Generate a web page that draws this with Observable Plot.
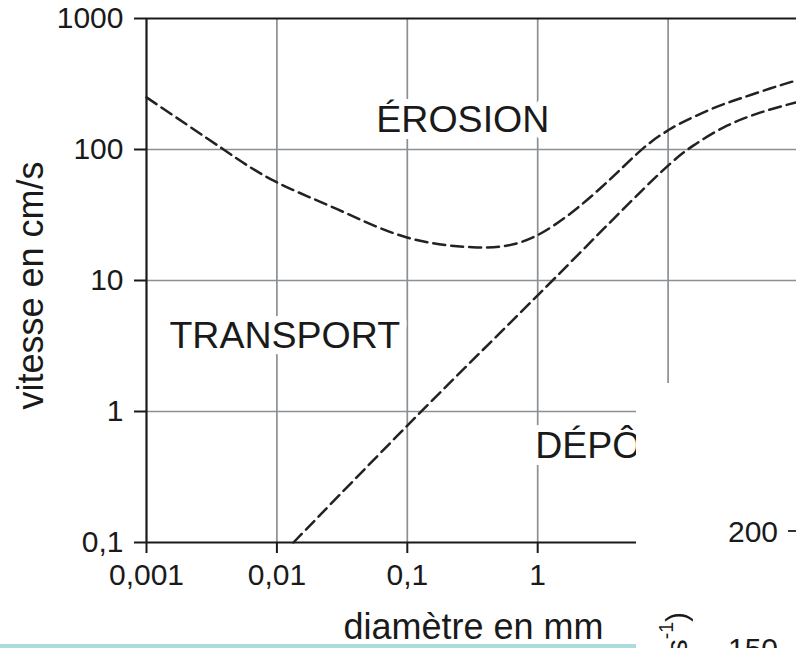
<!DOCTYPE html>
<html><head><meta charset="utf-8">
<script src="https://cdn.jsdelivr.net/npm/d3@7"></script>
<script src="https://cdn.jsdelivr.net/npm/@observablehq/plot@0.6"></script>
<style>
html,body{margin:0;padding:0;background:#fff;}
#wrap{position:relative;width:796px;height:648px;overflow:hidden;font-family:"Liberation Sans",Arial,sans-serif;color:#1a1a1a;}
#wrap svg{position:absolute;left:0;top:0;}
#mask{position:absolute;left:636px;top:383px;width:160px;height:265px;background:#fff;}
.frag{position:absolute;font-size:30px;line-height:1;white-space:nowrap;}
#tick200{position:absolute;left:788px;top:530px;width:8px;height:2px;background:#333;}
#unit{position:absolute;left:657px;top:612px;font-size:30px;line-height:1;writing-mode:vertical-rl;transform:rotate(180deg);white-space:nowrap;}
#unit sup{font-size:0.65em;}
#bar{position:absolute;left:0;top:644px;width:636px;height:4px;background:#a9dcda;}
svg [aria-label="x-axis tick"] path, svg [aria-label="y-axis tick"] path{stroke-width:2px;}
</style></head>
<body><div id="wrap"></div>
<script>
// Erosion threshold curve (upper dashed)
const erosionD = [0.001, 0.0039, 0.0097, 0.029, 0.098, 0.34, 0.99, 3.01, 6.43, 10, 12.4, 21, 35.6, 60.5, 95.7];
const erosionV = [250, 100, 57, 35, 21.4, 17.9, 22.1, 50.4, 102, 140, 158, 202, 245, 292, 336];
// Deposition (settling) curve (lower dashed)
const depositD = [0.0134, 0.1, 1, 10.4, 15.6, 28.3, 50.7, 95.7];
const depositV = [0.1, 0.78, 7.7, 78, 107, 152, 191, 229];
// Region labels
const regionNames = ["ÉROSION", "TRANSPORT", "DÉPÔT"];
const regionD = [0.0579, 0.0015, 0.957];
const regionV = [135, 3.03, 0.438];
// Ticks
const xTicks = [0.001, 0.01, 0.1, 1];
const xTickLabels = ["0,001", "0,01", "0,1", "1"];
const yTicks = [0.1, 1, 10, 100, 1000];
const yTickLabels = ["0,1", "1", "10", "100", "1000"];
const xGrid = [0.01, 0.1, 1, 10];
const yGrid = [1, 10, 100];
const xLabel = "diamètre en mm";
const yLabel = "vitesse en cm/s";

const erosion = erosionD.map((d, i) => ({d, v: erosionV[i]}));
const deposit = depositD.map((d, i) => ({d, v: depositV[i]}));
const regions = regionNames.map((name, i) => ({name, d: regionD[i], v: regionV[i]}));
const ink = "#1a1a1a";
const gridColor = "#8a9094";

const chart = Plot.plot({
  width: 796,
  height: 648,
  marginLeft: 146,
  marginRight: 0,
  marginTop: 18,
  marginBottom: 106,
  style: {fontFamily: '"Liberation Sans", Arial, sans-serif', color: ink, background: "transparent", overflow: "visible"},
  x: {type: "log", domain: [0.001, 100], range: [146, 798]},
  y: {type: "log", domain: [0.1, 1000], range: [542, 18]},
  marks: [
    Plot.ruleX(xGrid, {stroke: gridColor, strokeWidth: 1.7}),
    Plot.ruleY(yGrid, {stroke: gridColor, strokeWidth: 1.7}),
    Plot.ruleY([0.1, 1000], {stroke: ink, strokeWidth: 2.2}),
    Plot.ruleX([0.001], {stroke: ink, strokeWidth: 2.2}),
    Plot.axisX(xTicks, {tickSize: 11, tickPadding: 10, fontSize: 30, stroke: ink, strokeWidth: 2, fill: ink,
      tickFormat: d => xTickLabels[xTicks.indexOf(d)], label: null}),
    Plot.axisY(yTicks, {tickSize: 12, tickPadding: 11, fontSize: 30, stroke: ink, strokeWidth: 2, fill: ink,
      tickFormat: d => yTickLabels[yTicks.indexOf(d)], label: null}),
    Plot.text(regions, {x: "d", y: "v", text: "name", textAnchor: "start", lineAnchor: "bottom",
      fontSize: 37.5, fill: ink, stroke: "white", strokeWidth: 14, paintOrder: "stroke"}),
    Plot.line(erosion, {x: "d", y: "v", curve: "natural", stroke: "#222", strokeWidth: 2.5, strokeDasharray: "12,6"}),
    Plot.line(deposit, {x: "d", y: "v", curve: "catmull-rom", stroke: "#222", strokeWidth: 2.5, strokeDasharray: "12,6"}),
    Plot.text([xLabel], {frameAnchor: "bottom", dx: 2, dy: 96, lineAnchor: "bottom", fontSize: 36, fill: ink}),
    Plot.text([yLabel], {frameAnchor: "left", dx: -104, dy: 5, rotate: -90, lineAnchor: "bottom", textAnchor: "middle", fontSize: 36, fill: ink})
  ]
});

const wrap = document.getElementById("wrap");
wrap.appendChild(chart);
wrap.insertAdjacentHTML("beforeend",
  '<div id="mask"></div>' +
  '<span class="frag" style="left:728px;top:517px;">200</span>' +
  '<div id="tick200"></div>' +
  '<span class="frag" style="left:728px;top:634px;">150</span>' +
  '<span id="unit">(m s<sup>-1</sup>)</span>' +
  '<div id="bar"></div>');
</script>
</body></html>
